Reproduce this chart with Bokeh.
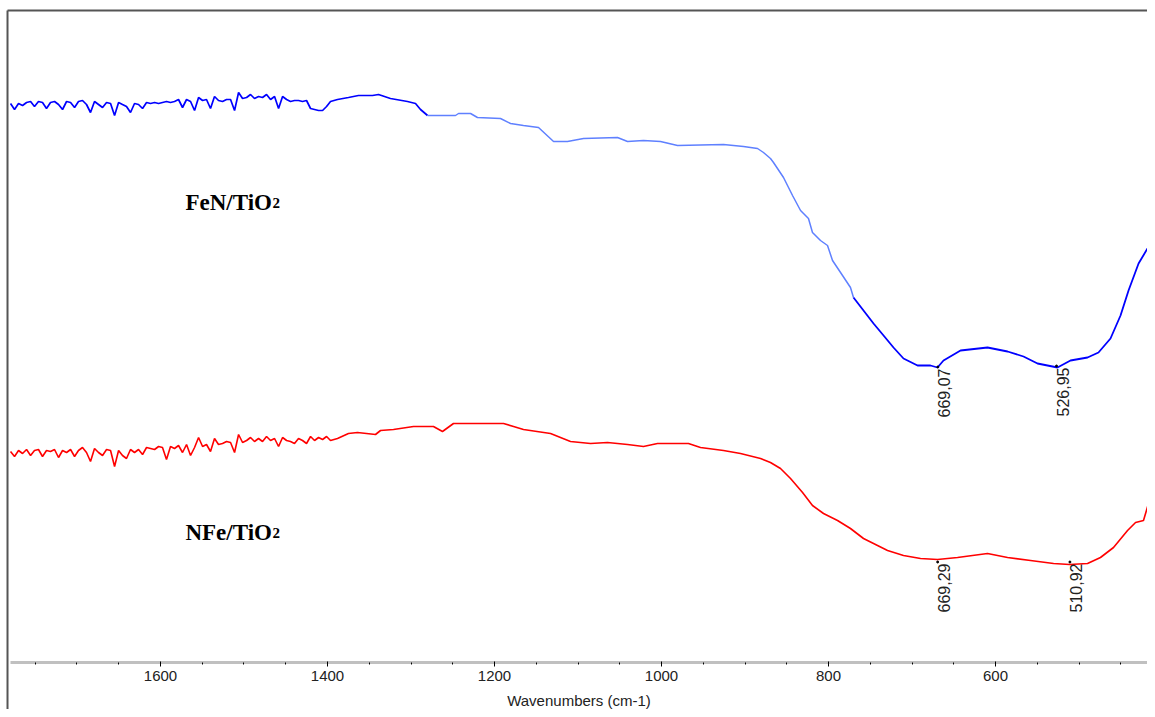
import numpy as np
from bokeh.plotting import figure
from bokeh.models import Range1d, SingleIntervalTicker
from bokeh.core.properties import value
from bokeh.embed import file_html
from bokeh.resources import INLINE

# FeN/TiO2 spectrum (wavenumber cm-1, transmittance a.u.)
fen_wn = [1779.6, 1774.8, 1770.0, 1765.2, 1760.4, 1755.6, 1750.9, 1746.1, 1741.3, 1736.5,
          1731.7, 1726.9, 1722.1, 1717.3, 1712.5, 1707.7, 1702.9, 1698.2, 1693.4, 1688.6,
          1683.8, 1679.0, 1674.2, 1669.4, 1664.6, 1659.8, 1655.0, 1650.2, 1645.5, 1640.7,
          1635.9, 1631.1, 1626.3, 1621.5, 1616.7, 1611.9, 1607.1, 1602.3, 1597.6, 1592.8,
          1588.0, 1583.2, 1578.4, 1573.6, 1568.8, 1564.0, 1559.2, 1554.4, 1549.6, 1544.9,
          1540.1, 1535.3, 1530.5, 1525.7, 1520.9, 1516.1, 1511.3, 1506.5, 1501.7, 1496.9,
          1492.2, 1487.4, 1482.6, 1477.8, 1473.0, 1468.2, 1463.4, 1458.6, 1453.8, 1449.0,
          1444.3, 1439.5, 1434.7, 1429.9, 1425.1, 1420.3, 1415.5, 1410.7, 1405.9, 1401.1,
          1396.4, 1388.0, 1374.9, 1362.9, 1346.1, 1338.9, 1324.6, 1304.2, 1294.6, 1288.6,
          1280.2, 1246.7, 1243.1, 1228.7, 1220.4, 1192.8, 1180.8, 1165.3, 1147.3, 1129.3,
          1112.6, 1093.4, 1052.7, 1040.7, 1021.6, 1001.2, 980.8, 925.8, 901.8, 885.0,
          877.9, 869.5, 865.9, 853.9, 843.1, 833.5, 824.0, 819.2, 809.6, 801.2,
          795.2, 785.6, 773.7, 770.1, 758.1, 746.1, 734.1, 722.2, 710.2, 693.4,
          677.9, 669.5, 662.3, 641.9, 609.6, 585.6, 566.5, 549.7, 525.8, 510.2,
          489.8, 476.7, 462.3, 450.3, 440.7, 428.7, 418.0, 412.0, 408.4]
fen_t = [55.9, 55.3, 55.9, 55.7, 56.0, 56.1, 55.6, 56.1, 56.0, 55.4,
         56.0, 56.1, 55.8, 55.3, 56.1, 56.0, 55.5, 56.1, 56.2, 55.8,
         55.0, 56.1, 55.8, 55.5, 56.0, 55.9, 54.7, 56.0, 55.8, 55.6,
         55.0, 55.9, 55.8, 55.4, 56.0, 55.9, 56.0, 55.9, 56.0, 56.1,
         56.0, 56.1, 56.3, 55.5, 56.3, 56.1, 55.2, 56.5, 56.2, 56.3,
         55.4, 56.6, 56.2, 56.1, 56.3, 56.3, 55.2, 57.0, 56.4, 56.5,
         56.8, 56.4, 56.6, 56.5, 56.8, 56.3, 56.6, 55.4, 56.6, 56.3,
         56.1, 56.2, 56.2, 56.1, 56.2, 55.4, 55.3, 55.2, 55.2, 55.6,
         56.1, 56.3, 56.5, 56.7, 56.7, 56.8, 56.4, 56.1, 55.9, 55.3,
         54.7, 54.7, 54.9, 54.9, 54.5, 54.4, 53.9, 53.7, 53.5, 52.1,
         52.1, 52.4, 52.5, 52.1, 52.2, 52.1, 51.7, 51.8, 51.6, 51.4,
         51.0, 50.4, 50.0, 48.5, 46.7, 45.2, 44.4, 43.0, 42.2, 41.7,
         40.2, 39.0, 37.5, 36.5, 35.2, 33.9, 32.7, 31.5, 30.4, 29.7,
         29.7, 29.5, 30.2, 31.2, 31.5, 31.1, 30.6, 29.9, 29.5, 30.2,
         30.5, 31.0, 32.4, 34.7, 37.2, 39.9, 41.4, 41.2, 40.4]

# NFe/TiO2 spectrum
nfe_wn = [1779.6, 1774.8, 1770.0, 1765.2, 1760.4, 1755.6, 1750.9, 1746.1, 1741.3, 1736.5,
          1731.7, 1726.9, 1722.1, 1717.3, 1712.5, 1707.7, 1702.9, 1698.2, 1693.4, 1688.6,
          1683.8, 1679.0, 1674.2, 1669.4, 1664.6, 1659.8, 1655.0, 1650.2, 1645.5, 1640.7,
          1635.9, 1631.1, 1626.3, 1621.5, 1616.7, 1611.9, 1607.1, 1602.3, 1597.6, 1592.8,
          1588.0, 1583.2, 1578.4, 1573.6, 1568.8, 1564.0, 1559.2, 1554.4, 1549.6, 1544.9,
          1540.1, 1535.3, 1530.5, 1525.7, 1520.9, 1516.1, 1511.3, 1506.5, 1501.7, 1496.9,
          1492.2, 1487.4, 1482.6, 1477.8, 1473.0, 1468.2, 1463.4, 1458.6, 1453.8, 1449.0,
          1444.3, 1439.5, 1434.7, 1429.9, 1425.1, 1420.3, 1415.5, 1410.7, 1405.9, 1401.1,
          1396.4, 1388.0, 1374.9, 1364.1, 1342.5, 1336.5, 1321.0, 1297.0, 1273.1, 1262.3,
          1249.1, 1189.2, 1177.2, 1165.3, 1132.9, 1109.0, 1085.0, 1064.7, 1040.7, 1021.6,
          1004.8, 967.7, 953.3, 925.8, 905.4, 881.4, 869.5, 857.5, 845.5, 831.1,
          819.2, 806.0, 789.2, 773.7, 758.1, 741.3, 729.3, 710.2, 689.8, 669.5,
          645.5, 609.6, 585.6, 558.1, 530.5, 511.4, 489.8, 474.3, 458.7, 441.9,
          432.3, 422.8, 416.8, 408.4]
nfe_t = [21.1, 20.6, 21.2, 20.9, 21.3, 20.7, 21.2, 21.3, 20.6, 21.2,
         21.1, 21.3, 20.5, 21.2, 21.0, 21.3, 20.6, 21.2, 21.5, 21.0,
         20.1, 21.4, 21.0, 20.7, 21.3, 21.2, 19.6, 21.2, 20.7, 20.4,
         21.3, 21.0, 21.3, 20.8, 21.5, 21.4, 21.3, 21.6, 21.5, 20.3,
         21.6, 21.4, 21.7, 21.0, 21.8, 20.7, 21.5, 22.5, 21.6, 21.8,
         21.1, 22.4, 21.8, 21.9, 22.1, 22.0, 21.0, 22.8, 22.0, 22.2,
         22.5, 22.1, 22.4, 22.1, 22.6, 22.2, 22.4, 21.6, 22.5, 22.2,
         22.1, 21.9, 22.4, 22.2, 21.9, 22.6, 22.2, 22.5, 22.3, 22.6,
         22.2, 22.4, 22.9, 23.0, 22.8, 23.2, 23.3, 23.6, 23.6, 23.1,
         23.9, 23.9, 23.6, 23.3, 22.9, 22.1, 21.9, 22.0, 21.8, 21.6,
         21.9, 21.9, 21.5, 21.2, 20.9, 20.4, 20.0, 19.4, 18.4, 17.0,
         15.7, 14.9, 14.2, 13.4, 12.4, 11.7, 11.2, 10.7, 10.4, 10.3,
         10.5, 10.9, 10.5, 10.2, 9.9, 9.8, 9.9, 10.5, 11.5, 13.2,
         14.0, 14.2, 15.9, 16.2]

peak_labels = ["669,07", "526,95", "669,29", "510,92"]
peak_wn = [669.07, 526.95, 669.29, 510.92]
peak_t = [29.4, 29.5, 9.9, 9.9]

sample_names = ["FeN/TiO", "NFe/TiO"]
sample_wn = [1570.1, 1570.1]
sample_t = [46.0, 13.0]

# plot box (frame border) limits
box_left_wn = 1783.2
box_top_t = 65.2
box_bottom_t = -4.7

p = figure(width=1147, height=709,
           x_range=Range1d(1791.6, 418.0), y_range=Range1d(-4.7, 66.2),
           output_backend="svg", toolbar_location=None, y_axis_location=None,
           min_border_left=0, min_border_right=0, min_border_top=0, min_border_bottom=0)
p.grid.visible = False
p.outline_line_color = None
p.background_fill_color = "white"
p.border_fill_color = "white"

# frame border (left and top)
p.segment(x0=[box_left_wn, box_left_wn], y0=[box_bottom_t, box_top_t],
          x1=[box_left_wn, 418.0], y1=[box_top_t, box_top_t],
          line_color="#555555", line_width=2)

wn = np.array(fen_wn)
tt = np.array(fen_t)
m1 = wn >= 1280.2
m2 = (wn <= 1280.2) & (wn >= 770.1)
m3 = wn <= 770.1
p.line(wn[m1], tt[m1], line_color="#0000ff", line_width=1.7)
p.line(wn[m2], tt[m2], line_color="#5f80ff", line_width=1.5)
p.line(wn[m3], tt[m3], line_color="#0000ff", line_width=1.8)

p.line(nfe_wn, nfe_t, line_color="#ff0000", line_width=1.6)

p.text(peak_wn, peak_t, text=peak_labels, angle=np.pi / 2,
       text_align="right", text_baseline="top",
       text_font=value("Liberation Sans"), text_font_size="16px", text_color="#222222")
p.scatter(peak_wn, [t + 0.15 for t in peak_t], size=2, color="black")

p.text(sample_wn, sample_t, text=sample_names, text_align="left", text_baseline="alphabetic",
       text_font=value("Liberation Serif"), text_font_style="bold",
       text_font_size="23px", text_color="black")
p.text(sample_wn, sample_t, text=["2", "2"], x_offset=87, text_align="left",
       text_baseline="alphabetic",
       text_font=value("Liberation Serif"), text_font_style="bold",
       text_font_size="15px", text_color="black")

xa = p.xaxis[0]
xa.fixed_location = 0
xa.bounds = (1780.0, 418.0)
xa.ticker = SingleIntervalTicker(interval=200, num_minor_ticks=4)
xa.axis_line_color = "#c0c0c0"
xa.axis_line_width = 3
xa.major_tick_line_color = "black"
xa.major_tick_in = 1
xa.major_tick_out = 4
xa.minor_tick_line_color = "black"
xa.minor_tick_in = 0
xa.minor_tick_out = 2
xa.major_label_text_font = "Liberation Sans"
xa.major_label_text_font_size = "15px"
xa.major_label_text_color = "#222222"
xa.major_label_standoff = 4
xa.axis_label = "Wavenumbers (cm-1)"
xa.axis_label_text_font = "Liberation Sans"
xa.axis_label_text_font_style = "normal"
xa.axis_label_text_font_size = "15px"
xa.axis_label_text_color = "#222222"
xa.axis_label_standoff = 8

open("out.html", "w").write(file_html(p, INLINE))
